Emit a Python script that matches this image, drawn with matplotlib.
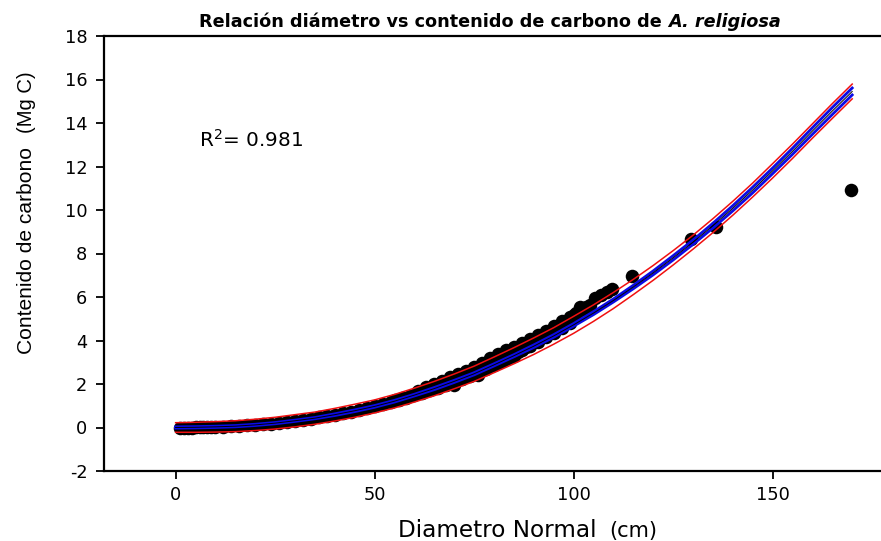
import numpy as np
import matplotlib.pyplot as plt
from matplotlib import font_manager

plt.rcParams['font.family'] = ['DejaVu Sans']
plt.rcParams['mathtext.default'] = 'regular'
plt.rcParams['axes.unicode_minus'] = False

diam = [1, 2, 3, 4, 5, 6, 7, 8, 9, 10, 12, 14, 16, 18, 20, 22, 24, 26, 28, 30,
        32, 34, 36, 38, 40, 42, 44, 46, 48, 50, 52, 54, 56, 58, 60, 62, 64, 66,
        68, 70, 72, 74, 76, 78, 80, 82, 84, 86, 88, 90, 92, 94, 96, 98, 100,
        101.5, 103, 105.4, 107, 109.7,
        55, 57, 59, 61, 63, 65, 67, 69, 71, 73, 75, 77, 79, 81, 83, 85,
        61, 63, 65, 67, 69, 71, 73, 75, 77, 79, 81, 83, 85, 87, 89, 91, 93,
        95, 97, 99, 100.5, 102, 104, 108.5, 101.6,
        87, 89, 91, 93, 95, 97, 99,
        70, 76,
        114.7, 129.4, 135.9, 169.8]
carbon = [0.00, 0.00, 0.00, 0.00, 0.01, 0.01, 0.01, 0.02, 0.02, 0.03, 0.04,
          0.05, 0.07, 0.10, 0.12, 0.15, 0.18, 0.22, 0.26, 0.31, 0.35, 0.41,
          0.46, 0.52, 0.59, 0.66, 0.73, 0.81, 0.89, 0.98, 1.07, 1.16, 1.26,
          1.37, 1.48, 1.59, 1.71, 1.83, 1.96, 2.10, 2.23, 2.38, 2.52, 2.68,
          2.86, 3.05, 3.25, 3.45, 3.70, 3.95, 4.15, 4.40, 4.65, 4.90, 5.15,
          5.40, 5.55, 5.95, 6.10, 6.36,
          1.26, 1.36, 1.47, 1.58, 1.70, 1.82, 1.95, 2.08, 2.21, 2.35, 2.50,
          2.65, 2.81, 2.97, 3.14, 3.31,
          1.70, 1.85, 1.98, 2.12, 2.30, 2.45, 2.62, 2.80, 2.98, 3.18, 3.38,
          3.55, 3.72, 3.90, 4.08, 4.25, 4.45, 4.65, 4.88, 5.10, 5.25, 5.45,
          5.65, 6.25, 5.52,
          3.55, 3.75, 3.95, 4.15, 4.35, 4.58, 4.80,
          1.95, 2.40,
          6.97, 8.66, 9.20, 10.91]

# fitted curve and band half widths on a 5 cm grid
fit_x = [0, 5, 10, 15, 20, 25, 30, 35, 40, 45, 50, 55, 60, 65, 70, 75, 80, 85,
         90, 95, 100, 105, 110, 115, 120, 125, 130, 135, 140, 145, 150, 155,
         160, 165, 170]
fit_y = [0.00, 0.01, 0.03, 0.06, 0.12, 0.20, 0.31, 0.43, 0.59, 0.77, 0.97,
         1.21, 1.49, 1.79, 2.12, 2.47, 2.88, 3.30, 3.74, 4.21, 4.72, 5.26,
         5.84, 6.46, 7.11, 7.80, 8.52, 9.28, 10.08, 10.92, 11.80, 12.70,
         13.63, 14.55, 15.45]
conf_hw = [0.03, 0.03, 0.03, 0.03, 0.03, 0.03, 0.03, 0.03, 0.04, 0.04, 0.04,
           0.04, 0.04, 0.05, 0.05, 0.05, 0.05, 0.05, 0.06, 0.06, 0.06, 0.07,
           0.07, 0.08, 0.09, 0.10, 0.10, 0.11, 0.12, 0.13, 0.13, 0.14, 0.15,
           0.16, 0.16]
pred_hw = [0.22, 0.23, 0.24, 0.25, 0.26, 0.27, 0.28, 0.28, 0.29, 0.30, 0.30,
           0.31, 0.32, 0.33, 0.34, 0.35, 0.36, 0.37, 0.38, 0.38, 0.39, 0.38,
           0.37, 0.35, 0.34, 0.33, 0.32, 0.32, 0.32, 0.32, 0.33, 0.33, 0.33,
           0.34, 0.34]

xticks = [0, 50, 100, 150]
yticks = [-2, 0, 2, 4, 6, 8, 10, 12, 14, 16, 18]

# narrow face for the rotated label if it is installed
names = set(f.name for f in font_manager.fontManager.ttflist)
ylab_font = 'Liberation Sans Narrow' if 'Liberation Sans Narrow' in names else 'Liberation Sans'

fig = plt.figure(figsize=(8.81, 5.41), dpi=100)
ax = fig.add_axes([104 / 881, 70 / 541, 788 / 881, 435 / 541])

fx = np.array(fit_x)
fy = np.array(fit_y)
ch = np.array(conf_hw)
ph = np.array(pred_hw)

ax.scatter(diam, carbon, s=95, color='black', zorder=2, linewidths=0)
ax.plot(fx, fy + ph, color='#f01010', lw=1.1, zorder=3)
ax.plot(fx, fy - ph, color='#f01010', lw=1.1, zorder=3)
ax.plot(fx, fy + ch, color='#0a0ae6', lw=2.0, zorder=4)
ax.plot(fx, fy - ch, color='#0a0ae6', lw=2.0, zorder=4)
ax.plot(fx, fy, color='black', lw=0.7, zorder=5)

ax.set_xlim(-18, 180)
ax.set_ylim(-2, 18)
ax.set_xticks(xticks)
ax.set_yticks(yticks)
ax.tick_params(direction='out', length=6, width=1.3, labelsize=12.8)
ax.tick_params(axis='y', pad=6)
ax.tick_params(axis='x', pad=5)
for s in ['left', 'bottom', 'top']:
    ax.spines[s].set_linewidth(1.6)
ax.spines['right'].set_visible(False)

fig.canvas.draw()
rend = fig.canvas.get_renderer()


def fit_size(texts, target, vertical=False):
    # scale font sizes so the texts together span the target pixel length
    tot = 0
    for t in texts:
        bb = t.get_window_extent(rend)
        tot += bb.height if vertical else bb.width
    k = target / tot
    for t in texts:
        t.set_fontsize(t.get_fontsize() * k)


r2 = fig.text(199 / 881, 1 - 147 / 541, 'R$^2$= 0.981', fontsize=15,
              ha='left', va='baseline')
fit_size([r2], 104)

# title, species name in italic
ty = 1 - 27 / 541
t1 = fig.text(199 / 881, ty, 'Relación diámetro vs contenido de carbono de ',
              fontsize=12, weight='bold', ha='left', va='baseline')
t2 = fig.text(0.7, ty, 'A. religiosa', fontsize=12, weight='bold',
              style='italic', ha='left', va='baseline')
fit_size([t1, t2], 578)
t2.set_x(t1.get_window_extent(rend).x1 / fig.bbox.width)

# axis labels
yl1 = fig.text(27 / 881, 1 - 251 / 541, 'Contenido de carbono', fontsize=13,
               rotation=90, ha='center', va='center', family=ylab_font)
yl2 = fig.text(27 / 881, 1 - 102 / 541, '(Mg C)', fontsize=15,
               rotation=90, ha='center', va='center', family=ylab_font)
fit_size([yl1], 206, vertical=True)
fit_size([yl2], 62, vertical=True)

xl1 = fig.text(398 / 881, 1 - 537 / 541, 'Diametro Normal', fontsize=14,
               ha='left', va='baseline')
xl2 = fig.text(609 / 881, 1 - 537 / 541, '(cm)', fontsize=15,
               ha='left', va='baseline')
fit_size([xl1], 199)
fit_size([xl2], 48)

fig.savefig('out.png', dpi=100)
